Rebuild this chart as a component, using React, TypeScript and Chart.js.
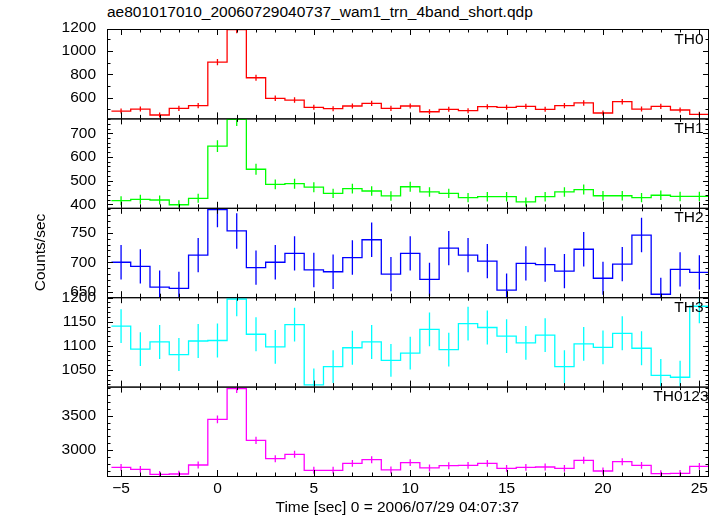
import React, { useEffect, useRef } from 'react';
import { Chart, registerables } from 'chart.js';

Chart.register(...registerables);

// ---- data (bin centres in seconds, 1 s bins) ----
const TIME = [-5, -4, -3, -2, -1, 0, 1, 2, 3, 4, 5, 6, 7, 8, 9, 10, 11, 12, 13, 14, 15, 16, 17, 18, 19, 20, 21, 22, 23, 24, 25];

const TH0 = [486, 503, 452, 509, 532, 905, 1182, 771, 595, 580, 518, 506, 529, 552, 509, 529, 480, 501, 489, 523, 518, 526, 501, 532, 555, 469, 566, 503, 526, 495, 458];
const TH0_ERR = [22, 22, 21, 22, 22, 27, 30, 25, 23, 23, 22, 22, 22, 23, 22, 22, 21, 22, 21, 22, 22, 22, 22, 22, 23, 21, 23, 22, 22, 22, 21];

const TH1 = [415, 421, 418, 398, 425, 646, 759, 548, 484, 487, 472, 446, 466, 456, 435, 474, 452, 446, 428, 432, 432, 410, 432, 452, 462, 436, 436, 428, 438, 433, 433];
const TH1_ERR = [19, 19, 19, 19, 19, 25, 28, 23, 21, 21, 21, 20, 21, 20, 20, 21, 20, 20, 20, 20, 20, 19, 20, 20, 21, 20, 20, 20, 20, 20, 20];

const TH2 = [700, 693, 658, 656, 712, 789, 753, 691, 700, 715, 687, 684, 708, 738, 680, 715, 671, 724, 712, 702, 653, 698, 696, 685, 722, 673, 697, 746, 646, 688, 683];
const TH2_ERR = [29, 29, 28, 28, 29, 30, 30, 29, 29, 29, 29, 29, 29, 29, 29, 29, 28, 29, 29, 29, 28, 29, 29, 29, 29, 28, 29, 29, 28, 29, 29];

const TH3 = [1141, 1093, 1108, 1082, 1110, 1111, 1197, 1124, 1098, 1144, 1019, 1057, 1096, 1108, 1070, 1085, 1134, 1092, 1146, 1138, 1120, 1106, 1122, 1057, 1104, 1097, 1126, 1095, 1039, 1035, 1182];
const TH3_ERR = [35, 35, 35, 34, 35, 35, 36, 35, 35, 35, 34, 34, 35, 35, 34, 34, 35, 35, 35, 35, 35, 35, 35, 34, 35, 35, 35, 35, 34, 34, 35];

const TH0123 = [2747, 2718, 2645, 2650, 2781, 3447, 3894, 3141, 2873, 2937, 2704, 2704, 2805, 2859, 2709, 2815, 2738, 2771, 2776, 2805, 2733, 2747, 2752, 2733, 2849, 2694, 2830, 2776, 2655, 2660, 2762];
const TH0123_ERR = [50, 50, 49, 49, 50, 57, 62, 53, 51, 51, 50, 50, 50, 51, 50, 50, 50, 50, 50, 50, 50, 50, 50, 50, 51, 50, 51, 50, 49, 49, 50];

const X_TICKS = [-5, 0, 5, 10, 15, 20, 25];
const TH0_TICKS = [600, 800, 1000, 1200];
const TH1_TICKS = [400, 500, 600, 700];
const TH2_TICKS = [650, 700, 750];
const TH3_TICKS = [1050, 1100, 1150, 1200];
const TH0123_TICKS = [3000, 3500];

const TITLE = 'ae801017010_20060729040737_wam1_trn_4band_short.qdp';
const X_TITLE = 'Time [sec] 0 = 2006/07/29 04:07:37';
const Y_TITLE = 'Counts/sec';

// ---- layout / style ----
const W = 718;
const H = 516;
const PLOT_LEFT = 107;
const PLOT_RIGHT = 709;
const PLOT_TOP = 29;
const PLOT_BOTTOM = 476;
const X_MIN = -5.73;
const X_MAX = 25.5;
const FONT = '"Liberation Sans", Arial, Helvetica, sans-serif';
const FS = 15.5;

const PANELS = [
  { label: 'TH0', values: TH0, errors: TH0_ERR, color: '#ff0000', min: 423, max: 1188, ticks: TH0_TICKS, minor: 100, major: 200, labelRight: 703.5 },
  { label: 'TH1', values: TH1, errors: TH1_ERR, color: '#00ff00', min: 385, max: 763, ticks: TH1_TICKS, minor: 20, major: 100, labelRight: 703.5 },
  { label: 'TH2', values: TH2, errors: TH2_ERR, color: '#0000ff', min: 641, max: 792, ticks: TH2_TICKS, minor: 10, major: 50, labelRight: 703.5 },
  { label: 'TH3', values: TH3, errors: TH3_ERR, color: '#00ffff', min: 1015.6, max: 1200.7, ticks: TH3_TICKS, minor: 10, major: 50, labelRight: 703.5 },
  { label: 'TH0123', values: TH0123, errors: TH0123_ERR, color: '#ff00ff', min: 2621, max: 3924, ticks: TH0123_TICKS, minor: 100, major: 500, labelRight: 708.5 },
];

const framePlugin = {
  id: 'qdpFrame',
  afterDatasetsDraw(chart: any, _args: any, opts: any) {
    const { ctx, chartArea: a, scales } = chart;
    const xs = scales.x;
    const ys = scales.y;
    const MAJ = 6;
    const MIN = 3.5;
    ctx.save();
    ctx.strokeStyle = '#000';
    ctx.lineWidth = 1;
    ctx.strokeRect(a.left + 0.5, a.top + 0.5, a.right - a.left - 1, a.bottom - a.top);
    ctx.beginPath();
    for (let v = Math.ceil(xs.min); v <= xs.max; v += 1) {
      const px = Math.round(xs.getPixelForValue(v)) + 0.5;
      const len = v % 5 === 0 ? MAJ : MIN;
      ctx.moveTo(px, a.top);
      ctx.lineTo(px, a.top + len);
      ctx.moveTo(px, a.bottom);
      ctx.lineTo(px, a.bottom - len);
    }
    const k0 = Math.ceil(ys.min / opts.minor);
    const k1 = Math.floor(ys.max / opts.minor);
    for (let k = k0; k <= k1; k++) {
      const v = k * opts.minor;
      const py = Math.round(ys.getPixelForValue(v)) + 0.5;
      const len = v % opts.major === 0 ? MAJ : MIN;
      ctx.moveTo(a.left, py);
      ctx.lineTo(a.left + len, py);
      ctx.moveTo(a.right, py);
      ctx.lineTo(a.right - len, py);
    }
    ctx.stroke();
    ctx.fillStyle = '#000';
    ctx.font = `${FS}px ${FONT}`;
    ctx.textAlign = 'right';
    ctx.textBaseline = 'alphabetic';
    ctx.fillText(opts.label, opts.labelRight, a.top + 14.5);
    ctx.restore();
  },
};

function makeConfig(p: any, i: number): any {
  const n = PANELS.length;
  const ph = (PLOT_BOTTOM - PLOT_TOP) / n;
  const top = PLOT_TOP + ph * i;
  const bottom = PLOT_TOP + ph * (i + 1);
  const isBottom = i === n - 1;
  const isMiddle = i === Math.floor(n / 2);

  const edges = TIME.map((t) => t - 0.5).concat([TIME[TIME.length - 1] + 0.5]);
  const stepData = edges.map((e, k) => ({ x: e, y: p.values[Math.min(k, p.values.length - 1)] }));
  const errData: any[] = [];
  TIME.forEach((t, k) => {
    errData.push({ x: t, y: p.values[k] - p.errors[k] });
    errData.push({ x: t, y: p.values[k] + p.errors[k] });
    errData.push({ x: t, y: null });
  });

  return {
    type: 'line',
    data: {
      datasets: [
        { data: stepData, stepped: 'before', borderColor: p.color, borderWidth: 1.3, pointRadius: 0, fill: false },
        { data: errData, borderColor: p.color, borderWidth: 1.3, pointRadius: 0, fill: false, spanGaps: false },
      ],
    },
    options: {
      responsive: false,
      animation: false,
      events: [],
      layout: { padding: { left: 0, right: W - PLOT_RIGHT, top: top, bottom: isBottom ? 0 : H - bottom } },
      plugins: {
        legend: { display: false },
        tooltip: { enabled: false },
        title: { display: false },
        qdpFrame: { minor: p.minor, major: p.major, label: p.label, labelRight: p.labelRight },
      },
      scales: {
        x: {
          type: 'linear',
          min: X_MIN,
          max: X_MAX,
          display: isBottom,
          grid: { display: false, drawTicks: false },
          border: { display: false },
          afterBuildTicks: (s: any) => { s.ticks = X_TICKS.map((v) => ({ value: v })); },
          afterFit: (s: any) => { s.height = isBottom ? H - PLOT_BOTTOM : 0; },
          ticks: {
            padding: 3,
            maxRotation: 0,
            autoSkip: false,
            color: '#000',
            font: { size: FS, family: FONT },
            callback: (v: any) => (v < 0 ? '\u2212' + Math.abs(v) : String(v)),
          },
        },
        y: {
          type: 'linear',
          position: 'left',
          min: p.min,
          max: p.max,
          grid: { display: false, drawTicks: false },
          border: { display: false },
          afterBuildTicks: (s: any) => { s.ticks = p.ticks.map((v: number) => ({ value: v })); },
          afterFit: (s: any) => { s.width = PLOT_LEFT; },
          ticks: {
            padding: 11,
            autoSkip: false,
            color: '#000',
            font: { size: FS, family: FONT },
            callback: (v: any) => String(v),
          },
          title: {
            display: isMiddle,
            text: Y_TITLE,
            color: '#000',
            font: { size: FS, family: FONT },
            padding: { top: 31.7, bottom: 0 },
          },
        },
      },
    },
    plugins: [framePlugin],
  };
}

export default function App() {
  const refs = useRef<(HTMLCanvasElement | null)[]>([]);
  useEffect(() => {
    const charts = PANELS.map((p, i) => new Chart(refs.current[i] as HTMLCanvasElement, makeConfig(p, i)));
    return () => charts.forEach((c) => c.destroy());
  }, []);
  return (
    <div style={{ position: 'absolute', left: 0, top: 0, width: W, height: H, background: '#fff', fontFamily: FONT, color: '#000' }}>
      <div style={{ position: 'absolute', left: 107, top: 4, fontSize: FS, lineHeight: '16px', whiteSpace: 'nowrap' }}>{TITLE}</div>
      {PANELS.map((p, i) => (
        <canvas
          key={p.label}
          ref={(el) => { refs.current[i] = el; }}
          width={W}
          height={H}
          style={{ position: 'absolute', left: 0, top: 0, width: W, height: H }}
        />
      ))}
      <div style={{ position: 'absolute', left: 275.5, top: 498.5, fontSize: FS, lineHeight: '16px', whiteSpace: 'nowrap' }}>{X_TITLE}</div>
    </div>
  );
}
